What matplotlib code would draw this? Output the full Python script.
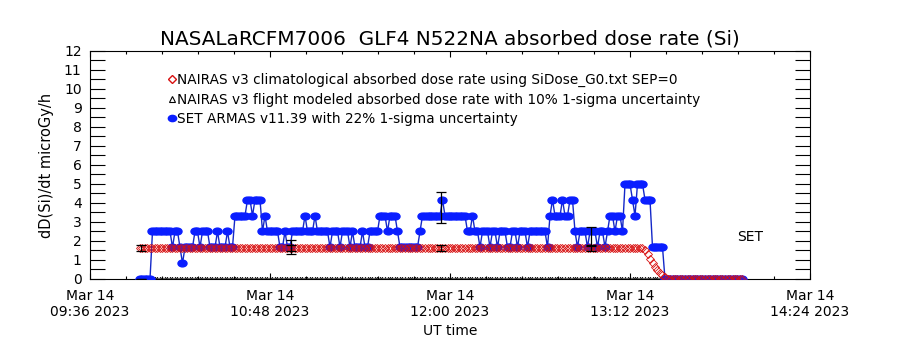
import numpy as np
import matplotlib
matplotlib.use("Agg")
import matplotlib.pyplot as plt
import matplotlib.dates as mdates
from matplotlib.lines import Line2D
from matplotlib.path import Path
from matplotlib.transforms import Affine2D
from matplotlib.ticker import MultipleLocator, AutoMinorLocator

# all times are minutes after 09:36 UT, 14 Mar 2023, one sample per minute
t_origin = np.datetime64("2023-03-14T09:36")
flight_end = 262

# SET ARMAS dose rate (microGy/h), run-length coded: start minute, value
set_min = [20, 25, 33, 34, 36, 37, 38, 42, 44, 45, 48, 51, 52, 55, 56, 58,
           63, 65, 66, 69, 70, 71, 76, 78, 79, 81, 86, 87, 90, 91, 96, 97,
           100, 101, 104, 105, 106, 109, 110, 112, 116, 119, 120, 123, 124,
           132, 133, 141, 142, 151, 153, 154, 156, 157, 160, 161, 163, 164,
           167, 169, 171, 172, 175, 176, 183, 184, 185, 186, 189, 190, 192,
           194, 195, 196, 199, 200, 203, 204, 206, 207, 208, 210, 211, 213,
           214, 217, 218, 219, 222, 225, 230]
set_rate = [0, 2.5, 1.67, 2.5, 1.67, 0.83, 1.67, 2.5, 1.67, 2.5, 1.67, 2.5,
            1.67, 2.5, 1.67, 3.33, 4.17, 3.33, 4.17, 2.5, 3.33, 2.5, 1.67,
            2.5, 1.67, 2.5, 3.33, 2.5, 3.33, 2.5, 1.67, 2.5, 1.67, 2.5, 1.67,
            2.5, 1.67, 2.5, 1.67, 2.5, 3.33, 2.5, 3.33, 2.5, 1.67, 2.5, 3.33,
            4.17, 3.33, 2.5, 3.33, 2.5, 1.67, 2.5, 1.67, 2.5, 1.67, 2.5, 1.67,
            2.5, 1.67, 2.5, 1.67, 2.5, 1.67, 3.33, 4.17, 3.33, 4.17, 3.33,
            4.17, 2.5, 1.67, 2.5, 1.67, 2.5, 1.67, 2.5, 1.67, 2.5, 3.33, 2.5,
            3.33, 2.5, 5.0, 4.17, 3.33, 5.0, 4.17, 1.67, 0]

# NAIRAS v3 climatological dose rate
clim_min = [20, 222, 223, 224, 225, 226, 227, 228, 229, 230, 231]
clim_rate = [1.64, 1.5, 1.3, 1.05, 0.85, 0.65, 0.47, 0.33, 0.2, 0.08, 0]

# NAIRAS v3 flight modeled dose rate
model_min = [20]
model_rate = [0.0]

# hourly error bars
err_min = [20.4, 80.4, 140.4, 200.4]
err_set = [0.0, 1.69, 3.75, 2.24]
err_clim = [1.64, 1.64, 1.64, 1.64]
set_unc = 0.22
clim_unc = 0.10

tick_min = [0, 72, 144, 216, 288]


def expand(start, rate):
    n = np.diff(start + [flight_end])
    return np.repeat(rate, n)


def to_time(m):
    return t_origin + (np.asarray(m) * 60).astype("timedelta64[s]")


t = to_time(np.arange(20, flight_end))
set_v = expand(set_min, set_rate)
clim_v = expand(clim_min, clim_rate)
model_v = expand(model_min, model_rate)

plt.rcParams["font.family"] = "DejaVu Sans"

fig = plt.figure(figsize=(9, 3.5), dpi=100)
ax = fig.add_axes([0.1, 0.2029, 0.8, 0.6514])

blob = Path.unit_circle().transformed(Affine2D().scale(1.0, 0.75))
blue = "#0a1eff"
red = "#d81010"

ax.plot(t, set_v, color="#1428c8", lw=1, marker=blob, ms=6.5,
        mfc=blue, mec=blue, zorder=3)
ax.plot(t, clim_v, ls="none", marker="D", ms=4.2, mfc="none", mec=red,
        mew=0.6, zorder=4)
ax.plot(t, model_v, ls="none", marker="^", ms=3.2, mfc="none", mec="k",
        mew=0.6, zorder=2)

te = to_time(err_min)
ax.errorbar(te, err_set, yerr=np.array(err_set) * set_unc, fmt="none",
            ecolor="k", elinewidth=0.9, capsize=3.5, capthick=0.9, zorder=5)
ax.errorbar(te, err_clim, yerr=np.array(err_clim) * clim_unc, fmt="none",
            ecolor="k", elinewidth=0.9, capsize=3.5, capthick=0.9, zorder=5)

ax.text(to_time(264), 2.2, "SET", fontsize=10, ha="center", va="center")

ax.set_xlim(to_time(tick_min[0]), to_time(tick_min[-1]))
ax.set_ylim(0, 12)
ax.xaxis.set_major_locator(plt.FixedLocator(mdates.date2num(to_time(tick_min))))
ax.xaxis.set_minor_locator(AutoMinorLocator(5))
ax.xaxis.set_major_formatter(mdates.DateFormatter("%b %d\n%H:%M %Y"))
ax.yaxis.set_major_locator(MultipleLocator(1))
ax.yaxis.set_minor_locator(MultipleLocator(0.5))

ax.tick_params(axis="both", which="both", direction="in", top=True,
               right=True, width=0.8, labelsize=10)
ax.tick_params(axis="x", which="major", length=4.5, pad=7)
ax.tick_params(axis="x", which="minor", length=2.5)
ax.tick_params(axis="y", which="both", length=10.5, pad=6)
for s in ax.spines.values():
    s.set_linewidth(0.8)

ax.set_xlabel("UT time", fontsize=10, labelpad=4)
ax.set_ylabel("dD(Si)/dt microGy/h", fontsize=10.5)
ax.yaxis.set_label_coords(-0.05, 0.5)
ax.set_title("NASALaRCFM7006  GLF4 N522NA absorbed dose rate (Si)",
             fontsize=14.4, pad=5)

handles = [
    Line2D([], [], ls="none", marker="D", ms=4, mfc="none", mec=red, mew=1),
    Line2D([], [], ls="none", marker="^", ms=4.5, mfc="none", mec="k", mew=0.8),
    Line2D([], [], ls="none", marker=blob, ms=6, mfc=blue, mec=blue),
]
labels = [
    "NAIRAS v3 climatological absorbed dose rate using SiDose_G0.txt SEP=0",
    "NAIRAS v3 flight modeled absorbed dose rate with 10% 1-sigma uncertainty",
    "SET ARMAS v11.39 with 22% 1-sigma uncertainty",
]
ax.legend(handles, labels, loc="upper left", bbox_to_anchor=(0.108, 0.905),
          frameon=False, fontsize=9.8, handlelength=0.6, handletextpad=0.1,
          labelspacing=0.42, borderaxespad=0, borderpad=0)

fig.savefig("out.png", dpi=100)
